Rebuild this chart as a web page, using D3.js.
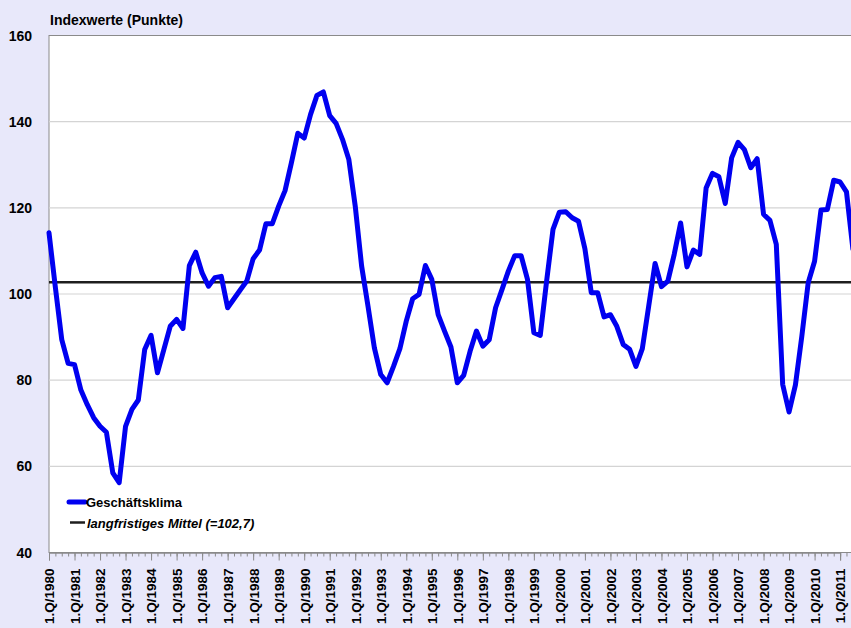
<!DOCTYPE html>
<html>
<head>
<meta charset="utf-8">
<script src="https://d3js.org/d3.v7.min.js"></script>
<style>
  body { margin: 0; background: #e8e8fa; }
  svg { display: block; font-family: "Liberation Sans", Arial, sans-serif; }
</style>
</head>
<body>
<div id="chart"></div>
<script>
// Quarterly index values, starting 1.Q/1980
var klima = [114.2, 101.5, 89.4, 83.9, 83.6, 77.7, 74.3, 71.3, 69.3, 67.9,
  58.5, 56.2, 69.3, 73.2, 75.4, 87.1, 90.4, 81.7, 87.1, 92.5,
  94.1, 92.0, 106.6, 109.7, 104.9, 101.8, 103.8, 104.1, 96.8, 98.9,
  101.0, 103.0, 108.2, 110.2, 116.3, 116.3, 120.4, 124.0, 130.5, 137.3,
  136.2, 141.7, 146.1, 146.9, 141.4, 139.6, 135.9, 131.2, 120.4, 106.5,
  97.2, 87.5, 81.3, 79.4, 83.2, 87.3, 93.7, 98.9, 99.9, 106.6,
  103.4, 95.2, 91.4, 87.7, 79.4, 81.1, 86.7, 91.4, 87.9, 89.4,
  96.8, 101.0, 105.3, 108.9, 108.9, 103.4, 91.0, 90.4, 103.0, 115.0,
  119.0, 119.1, 117.7, 116.9, 110.5, 100.3, 100.3, 94.7, 95.2, 92.5,
  88.3, 87.2, 83.2, 87.3, 97.2, 107.1, 101.7, 103.0, 109.2, 116.5,
  106.3, 110.2, 109.2, 124.6, 128.0, 127.2, 121.0, 131.6, 135.2, 133.5,
  129.3, 131.4, 118.5, 117.1, 111.5, 79.0, 72.6, 78.9, 90.2, 102.6,
  107.6, 119.5, 119.6, 126.4, 126.0, 123.7, 110.5];
var mittel = 102.7;
var years = d3.range(1980, 2012);
var yTicks = [40, 60, 80, 100, 120, 140, 160];
var legendLabels = ["Geschäftsklima", "langfristiges Mittel (=102,7)"];

var width = 851, height = 628;
var plot = {left: 49, top: 35.5, bottom: 552.5, right: 880};

var svg = d3.select("#chart").append("svg")
    .attr("width", width)
    .attr("height", height);

// x: one step per quarter, first point sits on the y axis
var xScale = d3.scaleLinear()
    .domain([0, 124])
    .range([plot.left, 840.1]);

var yScale = d3.scaleLinear()
    .domain([40, 160])
    .range([plot.bottom, plot.top]);

// white plot area
svg.append("rect")
    .attr("x", plot.left)
    .attr("y", plot.top)
    .attr("width", plot.right - plot.left)
    .attr("height", plot.bottom - plot.top)
    .style("fill", "#fff")
    .style("stroke", "#8a8a8a")
    .style("stroke-width", 1);

// gridlines
svg.selectAll(".grid")
    .data(yTicks.filter(function(d) { return d > 40 && d < 160; }))
  .enter().append("line")
    .attr("class", "grid")
    .attr("x1", plot.left)
    .attr("x2", plot.right)
    .attr("y1", function(d) { return yScale(d); })
    .attr("y2", function(d) { return yScale(d); })
    .style("stroke", "#d4d4d4")
    .style("stroke-width", 1.2);

// y axis labels
svg.selectAll(".ylab")
    .data(yTicks)
  .enter().append("text")
    .attr("class", "ylab")
    .attr("x", 32)
    .attr("y", function(d) { return yScale(d); })
    .attr("dy", "0.36em")
    .attr("text-anchor", "end")
    .style("font-size", "14px")
    .style("font-weight", "bold")
    .text(function(d) { return d; });

svg.append("text")
    .attr("x", 50)
    .attr("y", 25)
    .style("font-size", "14px")
    .style("font-weight", "bold")
    .text("Indexwerte (Punkte)");

// x axis: quarterly minor ticks, yearly major ticks
var xAxisMinor = d3.axisBottom(xScale)
    .tickValues(d3.range(0, 130))
    .tickSize(4)
    .tickFormat("");
var gMinor = svg.append("g")
    .attr("transform", "translate(0," + plot.bottom + ")")
    .call(xAxisMinor);

var xAxisMajor = d3.axisBottom(xScale)
    .tickValues(years.map(function(y) { return (y - 1980) * 4; }))
    .tickSize(8)
    .tickFormat(function(d) { return "1.Q/" + (1980 + d / 4); });
var gMajor = svg.append("g")
    .attr("transform", "translate(0," + plot.bottom + ")")
    .call(xAxisMajor);

[gMinor, gMajor].forEach(function(g) {
  g.select(".domain").style("stroke", "#8a8a8a");
  g.selectAll(".tick line").style("stroke", "#8a8a8a");
});
gMajor.selectAll(".tick text")
    .attr("transform", "rotate(-90)")
    .attr("x", -16)
    .attr("y", 0)
    .attr("dy", "0.36em")
    .attr("text-anchor", "end")
    .style("font-family", "Liberation Sans, Arial, sans-serif")
    .style("font-size", "13.5px")
    .style("font-weight", "bold")
    .style("fill", "#000");

// long term mean
svg.append("line")
    .attr("x1", plot.left)
    .attr("x2", plot.right)
    .attr("y1", yScale(mittel))
    .attr("y2", yScale(mittel))
    .style("stroke", "#1e1e1e")
    .style("stroke-width", 2.5);

// index line
var line = d3.line()
    .x(function(d, i) { return xScale(i); })
    .y(function(d) { return yScale(d); });

svg.append("path")
    .datum(klima)
    .attr("d", line)
    .style("fill", "none")
    .style("stroke", "#0000f0")
    .style("stroke-width", 5)
    .style("stroke-linejoin", "round")
    .style("stroke-linecap", "round");

// legend
var legend = svg.append("g");
legend.append("line")
    .attr("x1", 69).attr("x2", 85)
    .attr("y1", 502).attr("y2", 502)
    .style("stroke", "#0000f0")
    .style("stroke-width", 5)
    .style("stroke-linecap", "round");
legend.append("text")
    .attr("x", 86).attr("y", 507)
    .style("font-size", "13px")
    .style("font-weight", "bold")
    .text(legendLabels[0]);
legend.append("line")
    .attr("x1", 70).attr("x2", 85)
    .attr("y1", 522.5).attr("y2", 522.5)
    .style("stroke", "#1e1e1e")
    .style("stroke-width", 2.5);
legend.append("text")
    .attr("x", 87).attr("y", 527.5)
    .style("font-size", "13px")
    .style("font-weight", "bold")
    .style("font-style", "italic")
    .text(legendLabels[1]);
</script>
</body>
</html>
